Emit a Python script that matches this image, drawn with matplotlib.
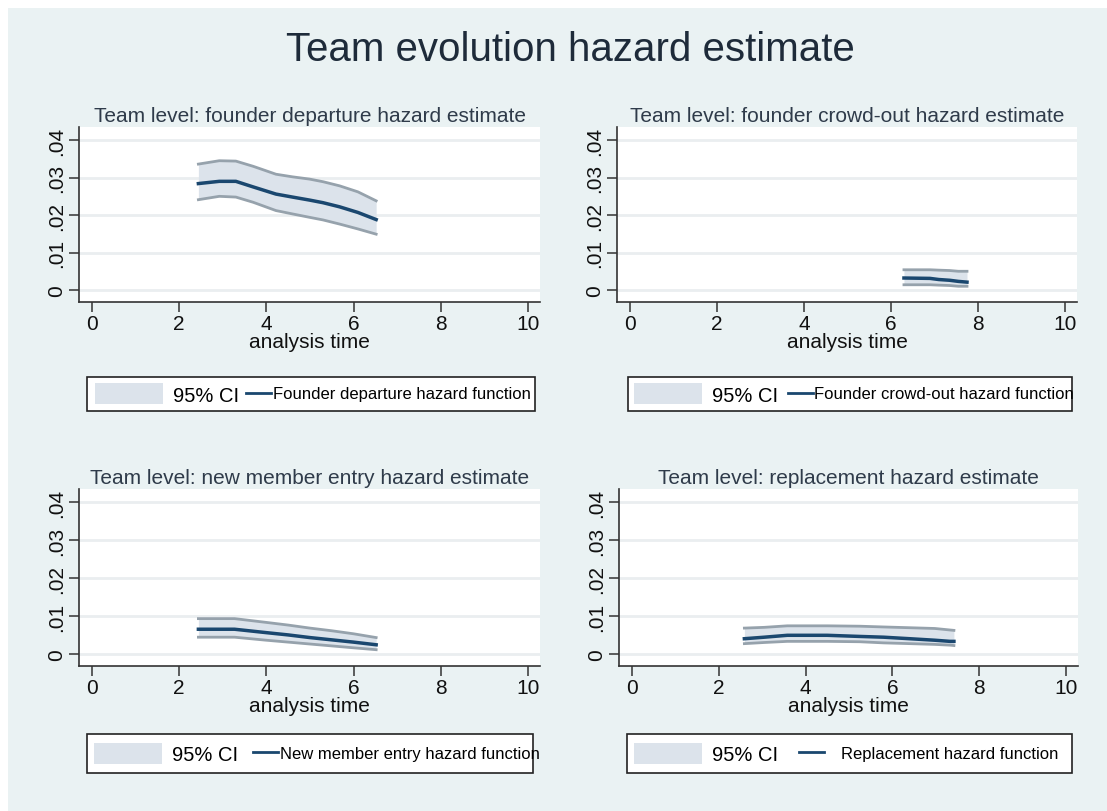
import matplotlib
matplotlib.use('Agg')
import matplotlib.pyplot as plt
from matplotlib.patches import Patch, Rectangle
from matplotlib.lines import Line2D

plt.rcParams['font.family'] = ['Liberation Sans', 'DejaVu Sans']

# 数据：各面板的时间点、风险估计及置信区间
fd_time = [2.44, 2.92, 3.3, 3.7, 4.22, 4.6, 4.99, 5.3, 5.68, 6.1, 6.52]
fd_haz = [0.0284, 0.0290, 0.0290, 0.0275, 0.0256, 0.0248, 0.0240, 0.0233, 0.0222, 0.0207, 0.0188]
fd_upper = [0.0336, 0.0345, 0.0344, 0.0330, 0.0309, 0.0302, 0.0296, 0.0289, 0.0278, 0.0262, 0.0238]
fd_lower = [0.0241, 0.0250, 0.0248, 0.0234, 0.0212, 0.0203, 0.0194, 0.0187, 0.0176, 0.0163, 0.0149]

co_time = [6.3, 6.9, 7.1, 7.35, 7.55, 7.75]
co_haz = [0.0032, 0.0031, 0.0028, 0.0026, 0.0023, 0.0021]
co_upper = [0.0054, 0.0054, 0.0053, 0.0052, 0.0050, 0.0050]
co_lower = [0.0014, 0.0014, 0.0013, 0.0012, 0.0010, 0.0010]

ne_time = [2.44, 3.27, 4.0, 4.5, 5.0, 5.5, 6.0, 6.52]
ne_haz = [0.0065, 0.0065, 0.0056, 0.0050, 0.0043, 0.0037, 0.0031, 0.0024]
ne_upper = [0.0093, 0.0093, 0.0083, 0.0076, 0.0068, 0.0061, 0.0053, 0.0043]
ne_lower = [0.0044, 0.0044, 0.0036, 0.0031, 0.0026, 0.0021, 0.0016, 0.0011]

rp_time = [2.59, 3.05, 3.58, 4.5, 5.25, 5.8, 6.4, 6.98, 7.33, 7.42]
rp_haz = [0.0040, 0.0044, 0.0049, 0.0049, 0.0046, 0.0044, 0.0040, 0.0036, 0.0033, 0.0033]
rp_upper = [0.0068, 0.0070, 0.0074, 0.0074, 0.0073, 0.0071, 0.0069, 0.0067, 0.0063, 0.0062]
rp_lower = [0.0027, 0.0030, 0.0033, 0.0033, 0.0032, 0.0029, 0.0027, 0.0025, 0.0023, 0.0022]

titles = ['Team level: founder departure hazard estimate',
          'Team level: founder crowd-out hazard estimate',
          'Team level: new member entry hazard estimate',
          'Team level: replacement hazard estimate']
labels = ['Founder departure hazard function',
          'Founder crowd-out hazard function',
          'New member entry hazard function',
          'Replacement hazard function']
series = [(fd_time, fd_haz, fd_upper, fd_lower),
          (co_time, co_haz, co_upper, co_lower),
          (ne_time, ne_haz, ne_upper, ne_lower),
          (rp_time, rp_haz, rp_upper, rp_lower)]

yticks = [0, 0.01, 0.02, 0.03, 0.04]
ytick_labels = ['0', '.01', '.02', '.03', '.04']
xticks = [0, 2, 4, 6, 8, 10]

W, H = 1107, 812
bg = '#EAF2F3'
navy = '#1A476F'
ci_fill = '#DCE3EB'
ci_edge = '#96A2AC'

# 像素布局: (左, 右, 上, 下)
boxes = [(79, 540, 128, 303), (617, 1077, 128, 303),
         (79, 540, 490, 667), (619, 1078, 490, 667)]
# 图例: 框(左, 右, 上, 下), 色块左端, 线条图例右端
leg_boxes = [(87, 535, 378, 412, 95, 531), (628, 1072, 378, 412, 634, 1074),
             (87, 533, 735, 774, 94, 540), (627, 1072, 735, 774, 634, 1058)]

fig = plt.figure(figsize=(W / 100, H / 100), dpi=100)
fig.patch.set_facecolor('white')
fig.patches.append(Rectangle((8 / W, 0), 1, 1 - 9 / H, transform=fig.transFigure,
                             facecolor=bg, edgecolor='none', zorder=-10))

fig.text(570 / W, 1 - 50 / H, 'Team evolution hazard estimate', ha='center', va='center',
         fontsize=29, color='#1E2B3A')

for i, (t, h, up, lo) in enumerate(series):
    l, r, tp, bt = boxes[i]
    ax = fig.add_axes([l / W, 1 - bt / H, (r - l) / W, (bt - tp) / H])
    ax.set_facecolor('white')
    ax.fill_between(t, lo, up, color=ci_fill, lw=0)
    ax.plot(t, up, color=ci_edge, lw=2)
    ax.plot(t, lo, color=ci_edge, lw=2)
    ax.plot(t, h, color=navy, lw=2.5)

    ax.set_xlim(-0.3, 10.28)
    ax.set_ylim(-0.0032, 0.0435)
    ax.set_xticks(xticks)
    ax.set_yticks(yticks)
    ax.set_yticklabels(ytick_labels, rotation=90, va='center')
    ax.grid(axis='y', color='#EAEEF0', lw=2)
    ax.set_axisbelow(True)
    for s in ['top', 'right']:
        ax.spines[s].set_visible(False)
    for s in ['left', 'bottom']:
        ax.spines[s].set_color('#333333')
        ax.spines[s].set_linewidth(1.2)
    ax.tick_params(direction='out', length=7, width=1.1, color='#333333',
                   labelsize=15, labelcolor='#111111', pad=2)
    ax.set_xlabel('analysis time', fontsize=15, color='#111111', labelpad=-1)
    ax.set_title(titles[i], fontsize=15, color='#2F3B4A', pad=4)

    # 图例
    bl, br, btp, bbt, pl, lr = leg_boxes[i]
    aw, ah = r - l, bt - tp
    fx = lambda px: (px - l) / aw
    fy = lambda py: (bt - py) / ah
    ax.add_patch(Rectangle((fx(bl), fy(bbt)), fx(br) - fx(bl), fy(btp) - fy(bbt),
                           transform=ax.transAxes, facecolor='white', edgecolor='#222222',
                           lw=1.2, clip_on=False, zorder=5))
    yc = fy((btp + bbt) / 2)
    leg1 = ax.legend([Patch(facecolor=ci_fill, edgecolor='none')], ['95% CI'],
                     loc='center left', bbox_to_anchor=(fx(pl), yc), frameon=False,
                     borderpad=0, borderaxespad=0, fontsize=14.5, handlelength=3.4,
                     handleheight=1.2, handletextpad=0.45)
    leg1.set_zorder(6)
    ax.add_artist(leg1)
    leg2 = ax.legend([Line2D([], [], color=navy, lw=2)], [labels[i]],
                     loc='center right', bbox_to_anchor=(fx(lr), yc), frameon=False,
                     borderpad=0, borderaxespad=0, fontsize=12, handlelength=1.5,
                     handletextpad=0.1 if i < 3 else 1.0)
    leg2.set_zorder(6)

fig.savefig('out.png', dpi=100, facecolor=fig.get_facecolor())
